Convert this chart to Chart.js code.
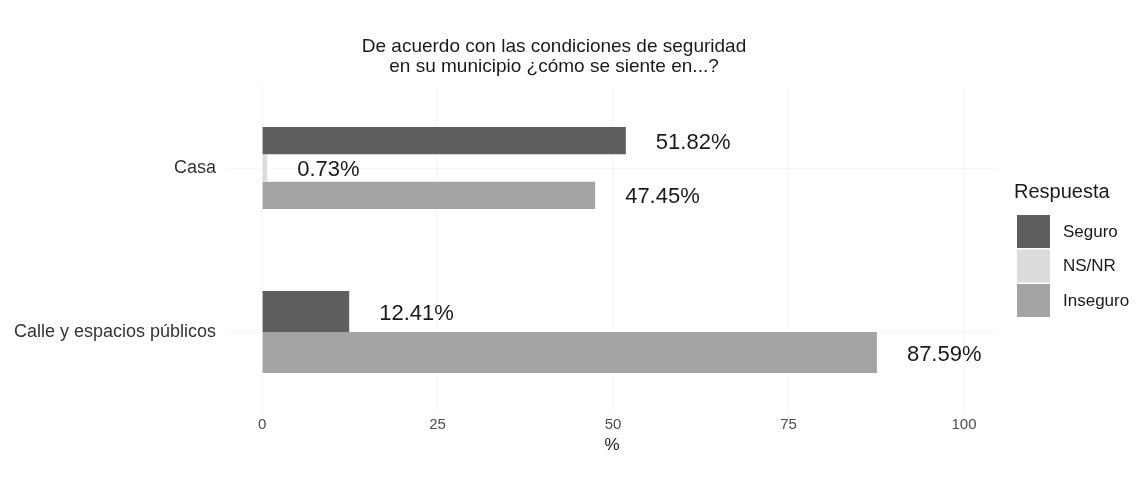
<!DOCTYPE html>
<html>
<head>
<meta charset="utf-8">
<script src="https://cdn.jsdelivr.net/npm/chart.js@4"></script>
<style>
  html, body { margin: 0; background: #fff; }
  #wrap { width: 1138px; height: 483px; }
</style>
</head>
<body>
<div id="wrap"><canvas id="chart"></canvas></div>
<script>
const categories = ["Casa", "Calle y espacios públicos"];
const seguro = [51.82, 12.41];
const nsnr = [0.73, null];
const inseguro = [47.45, 87.59];
const xTicks = [0, 25, 50, 75, 100];
const seriesNames = ["Seguro", "NS/NR", "Inseguro"];
const colors = ["#5e5e5e", "#dcdcdc", "#a4a4a4"];
const titleLines = ["De acuerdo con las condiciones de seguridad", "en su municipio ¿cómo se siente en...?"];
const legendTitle = "Respuesta";

const FONT = "'Liberation Sans', Arial, sans-serif";
const faint = "rgba(0,0,0,0.035)";

// title, value labels and legend drawn on top
const extras = {
  id: "extras",
  afterDatasetsDraw(chart) {
    const ctx = chart.ctx;
    ctx.save();
    ctx.textBaseline = "middle";

    ctx.fillStyle = "#1a1a1a";
    ctx.font = "22px " + FONT;
    ctx.textAlign = "left";
    chart.data.datasets.forEach((ds, i) => {
      chart.getDatasetMeta(i).data.forEach((bar, j) => {
        const v = ds.data[j];
        if (v == null) return;
        ctx.fillText(v.toFixed(2) + "%", bar.x + 30, bar.y + 2);
      });
    });

    ctx.font = "19px " + FONT;
    ctx.textAlign = "center";
    ctx.fillText(titleLines[0], 554, 47);
    ctx.fillText(titleLines[1], 554, 67);

    ctx.textAlign = "left";
    ctx.font = "20px " + FONT;
    ctx.fillText(legendTitle, 1014, 192);
    ctx.font = "17px " + FONT;
    seriesNames.forEach((name, i) => {
      const y = 215 + i * 34.5;
      ctx.fillStyle = colors[i];
      ctx.fillRect(1017, y, 33, 33);
      ctx.fillStyle = "#1a1a1a";
      ctx.fillText(name, 1063, y + 17);
    });
    ctx.restore();
  }
};

new Chart(document.getElementById("chart"), {
  type: "bar",
  data: {
    labels: categories,
    datasets: [
      { label: seriesNames[0], data: seguro, backgroundColor: colors[0] },
      { label: seriesNames[1], data: nsnr, backgroundColor: colors[1] },
      { label: seriesNames[2], data: inseguro, backgroundColor: colors[2] }
    ]
  },
  options: {
    indexAxis: "y",
    responsive: true,
    maintainAspectRatio: false,
    animation: false,
    datasets: {
      bar: { barPercentage: 1, categoryPercentage: 0.5, skipNull: true, borderWidth: 0 }
    },
    layout: { padding: { top: 86, right: 141, left: 0, bottom: 0 } },
    plugins: {
      legend: { display: false },
      tooltip: { enabled: false }
    },
    scales: {
      x: {
        type: "linear",
        min: -5,
        max: 104.7,
        afterBuildTicks: s => { s.ticks = xTicks.map(v => ({ value: v })); },
        afterFit: s => { s.height = 69; },
        grid: { color: faint, drawTicks: false },
        border: { display: false },
        ticks: { font: { size: 15, family: FONT }, color: "#4d4d4d", padding: 2 },
        title: {
          display: true, text: "%", color: "#1a1a1a",
          font: { size: 17, family: FONT }, padding: { top: 0, bottom: 27 }
        }
      },
      y: {
        afterFit: s => { s.width = 227; },
        grid: { color: faint, drawTicks: false, offset: false },
        border: { display: false },
        ticks: { font: { size: 18, family: FONT }, color: "#333333", padding: 11 }
      }
    }
  },
  plugins: [extras]
});
</script>
</body>
</html>
